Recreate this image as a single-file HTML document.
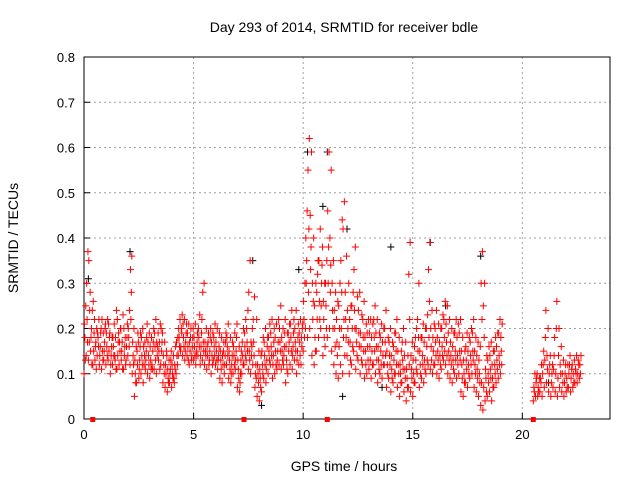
<!DOCTYPE html>
<html><head><meta charset="utf-8"><style>
body{margin:0;background:#fff}
svg{display:block;font-family:"Liberation Sans",sans-serif}
</style></head><body>
<svg id="chart" width="640" height="480" viewBox="0 0 640 480">
<text x="344" y="32" font-size="14" text-anchor="middle">Day 293 of 2014, SRMTID for receiver bdle</text>
<text x="344" y="471" font-size="14" text-anchor="middle">GPS time / hours</text>
<text transform="translate(18,238) rotate(-90)" font-size="14" text-anchor="middle">SRMTID / TECUs</text>
<g id="grid"></g>
<g id="axes"></g>
<g id="marks"></g>
</svg>
<script>
const xTicks=[0,5,10,15,20];
const yTicks=[0,0.1,0.2,0.3,0.4,0.5,0.6,0.7,0.8];
const yTickLabels=["0","0.1","0.2","0.3","0.4","0.5","0.6","0.7","0.8"];
const seg1Start=0, seg2Start=20.5, step=0.1;
const lowVals=[.10,.14,.13,.15,.12,.13,.14,.12,.11,.13,.12,.13,.10,.12,.14,.11,.12,.13,.11,.12,.14,.12,.10,.05,.08,.09,.10,.08,.11,.10,.09,.12,.11,.10,.13,.12,.08,.07,.06,.08,.07,.09,.10,.14,.15,.14,.13,.14,.12,.13,.13,.12,.14,.12,.13,.12,.11,.12,.10,.13,.12,.11,.09,.08,.10,.12,.09,.08,.10,.11,.07,.06,.10,.12,.13,.11,.10,.12,.07,.05,.04,.06,.09,.08,.10,.12,.09,.10,.11,.12,.11,.12,.08,.10,.12,.11,.13,.10,.12,.12,.15,.20,.18,.20,.14,.12,.15,.18,.20,.14,.16,.18,.20,.15,.12,.10,.09,.12,.10,.14,.14,.10,.12,.15,.11,.13,.10,.12,.09,.10,.11,.09,.12,.10,.08,.10,.09,.12,.07,.09,.06,.08,.10,.07,.05,.08,.06,.04,.07,.06,.05,.08,.10,.07,.09,.08,.10,.12,.11,.10,.12,.10,.09,.11,.13,.12,.10,.09,.08,.10,.09,.10,.06,.05,.08,.07,.09,.10,.07,.06,.05,.03,.02,.04,.05,.06,.04,.07,.08,.09,.10];
const midVals=[.18,.22,.17,.20,.15,.17,.18,.16,.15,.17,.16,.15,.14,.16,.18,.14,.15,.17,.14,.16,.18,.22,.14,.10,.12,.13,.14,.12,.15,.14,.13,.15,.16,.14,.17,.15,.12,.10,.09,.11,.10,.12,.14,.18,.20,.18,.17,.16,.15,.16,.16,.15,.18,.16,.17,.15,.14,.15,.14,.16,.15,.14,.13,.12,.14,.16,.13,.12,.14,.15,.11,.10,.14,.16,.17,.15,.14,.17,.12,.10,.09,.12,.14,.13,.15,.16,.14,.15,.15,.17,.15,.16,.13,.15,.18,.16,.17,.15,.17,.16,.22,.30,.28,.33,.22,.18,.22,.26,.30,.22,.25,.30,.28,.24,.20,.17,.16,.20,.18,.22,.20,.17,.20,.24,.17,.19,.16,.18,.15,.16,.16,.15,.18,.16,.13,.15,.14,.17,.12,.14,.11,.13,.15,.12,.10,.13,.11,.09,.12,.11,.10,.13,.15,.12,.14,.13,.16,.18,.16,.15,.17,.15,.14,.16,.18,.17,.15,.14,.13,.15,.14,.15,.12,.10,.13,.12,.14,.15,.12,.11,.10,.08,.07,.09,.10,.11,.09,.12,.13,.14,.15];
const highVals=[.25,.37,.28,.24,.22,.20,.22,.20,.19,.21,.22,.19,.18,.21,.24,.19,.20,.23,.18,.21,.24,.36,.20,.16,.17,.19,.20,.17,.21,.19,.18,.20,.22,.19,.21,.19,.17,.14,.13,.15,.14,.16,.18,.22,.23,.22,.21,.21,.20,.20,.21,.19,.23,.22,.30,.20,.19,.20,.19,.21,.20,.19,.18,.17,.19,.21,.18,.17,.19,.21,.16,.15,.20,.22,.24,.35,.20,.27,.22,.15,.14,.18,.20,.18,.21,.22,.20,.21,.22,.25,.20,.22,.19,.21,.24,.22,.24,.21,.22,.21,.30,.46,.62,.59,.40,.30,.35,.42,.38,.30,.35,.59,.55,.35,.28,.26,.30,.44,.48,.36,.30,.25,.28,.38,.27,.28,.23,.26,.21,.22,.22,.21,.25,.22,.19,.21,.20,.24,.18,.20,.17,.19,.22,.18,.15,.20,.17,.14,.39,.17,.16,.20,.30,.18,.21,.20,.23,.39,.24,.21,.24,.21,.20,.23,.26,.25,.22,.20,.19,.22,.21,.22,.18,.15,.19,.18,.20,.22,.18,.17,.16,.37,.30,.14,.16,.17,.15,.18,.19,.22,.21];
const extraVals1=[.21,.30,.35,.18,.26,.16,.19,.14,.22,.15,.19,.21,.12,.18,.13,.22,.17,.15,.20,.13,.20,.33,.17,.13,.15,.11,.18,.16,.13,.17,.16,.11,.19,.17,.15,.20,.14,.12,.11,.10,.12,.08,.17,.20,.16,.21,.15,.19,.17,.14,.18,.14,.20,.14,.28,.17,.16,.13,.17,.18,.17,.13,.15,.14,.12,.18,.15,.10,.16,.13,.13,.08,.17,.19,.20,.28,.17,.22,.10,.12,.11,.15,.17,.11,.18,.19,.12,.18,.13,.20,.18,.14,.16,.19,.21,.14,.20,.13,.19,.18,.26,.40,.55,.45,.30,.25,.28,.35,.25,.26,.30,.46,.40,.30,.24,.22,.25,.35,.42,.28,.24,.22,.25,.33,.20,.24,.19,.22,.18,.19,.19,.18,.22,.19,.16,.18,.17,.20,.15,.17,.14,.16,.19,.15,.12,.17,.14,.11,.32,.14,.13,.18,.22,.15,.18,.17,.20,.33,.20,.18,.20,.18,.17,.20,.22,.21,.19,.17,.16,.19,.18,.19,.15,.13,.16,.15,.17,.19,.15,.14,.13,.30,.25,.11,.13,.14,.12,.15,.16,.19,.18];
const extraVals2=[.13,.17,.24,.12,.19,.11,.16,.19,.13,.20,.14,.18,.16,.14,.11,.17,.20,.11,.16,.18,.16,.28,.12,.08,.19,.16,.12,.14,.18,.12,.11,.17,.13,.16,.11,.17,.10,.15,.08,.13,.09,.11,.12,.16,.19,.16,.19,.13,.18,.18,.14,.17,.16,.19,.15,.14,.17,.18,.12,.14,.13,.16,.11,.15,.17,.14,.11,.14,.12,.18,.09,.13,.12,.14,.15,.13,.16,.14,.09,.08,.07,.10,.12,.16,.13,.14,.17,.12,.17,.15,.13,.19,.11,.17,.15,.19,.15,.18,.14,.20,.18,.35,.42,.38,.26,.15,.32,.22,.34,.18,.20,.38,.34,.20,.16,.14,.20,.28,.22,.18,.17,.13,.16,.20,.14,.16,.13,.15,.12,.13,.13,.12,.15,.13,.11,.12,.12,.14,.10,.12,.09,.10,.12,.10,.08,.11,.09,.07,.22,.09,.08,.11,.18,.10,.12,.11,.13,.26,.13,.12,.14,.13,.12,.14,.15,.14,.13,.12,.11,.13,.12,.13,.09,.08,.11,.10,.12,.13,.10,.09,.08,.22,.18,.06,.08,.09,.07,.10,.11,.12,.12];
const lowVals2=[.04,.05,.05,.06,.05,.07,.08,.06,.05,.07,.06,.05,.07,.06,.05,.06,.07,.06,.07,.08,.08,.09];
const midVals2=[.07,.08,.07,.09,.10,.13,.14,.10,.08,.11,.10,.09,.12,.10,.08,.09,.10,.09,.10,.11,.10,.12];
const highVals2=[.10,.10,.09,.12,.15,.24,.20,.14,.12,.18,.26,.20,.16,.13,.12,.12,.14,.12,.13,.14,.12,.14];
const extraVals3=[.06,.09,.06,.08,.12,.18,.11,.12,.10,.14,.20,.14,.10,.08,.10,.07,.12,.11,.08,.10,.13,.10];
const blackTimes=[0.2,2.1,7.7,10.2,11.1,10.9,12.0,14.0,15.8,18.1,8.1,11.8,13.6,21.2,9.8,16.5];
const blackVals=[0.31,0.37,0.35,0.59,0.59,0.47,0.42,0.38,0.39,0.36,0.03,0.05,0.07,0.08,0.33,0.25];
const markerTimes=[0.4,7.3,11.1,20.5];

const X0=84,X1=610,Y0=419,Y1=57,XMAX=24,YMAX=0.8;
const xs=v=>X0+v/XMAX*(X1-X0);
const ys=v=>Y0-v/YMAX*(Y0-Y1);
const NS="http://www.w3.org/2000/svg";
const grid=document.getElementById('grid'),axes=document.getElementById('axes'),marks=document.getElementById('marks');
function mk(tag,attrs,parent){const e=document.createElementNS(NS,tag);for(const k in attrs)e.setAttribute(k,attrs[k]);parent.appendChild(e);return e;}

xTicks.forEach(t=>{const x=xs(t);
 if(t>0){const g=mk('line',{x1:x,x2:x,y1:Y0,y2:Y1,stroke:'#a0a0a0','stroke-dasharray':'2,3'},grid);
 
 }
 const tk=mk('line',{x1:x,x2:x,y1:Y0,y2:Y0-6,stroke:'#000'},axes);
 
 
 const tx=mk('text',{x:x,y:Y0+20,'font-size':13,'text-anchor':'middle'},axes);tx.textContent=t;
 
 
});
yTicks.forEach((t,i)=>{const y=ys(t);
 if(t>0&&t<YMAX){const g=mk('line',{x1:X0,x2:X1,y1:y,y2:y,stroke:'#a0a0a0','stroke-dasharray':'2,3'},grid);
 
 }
 const tk=mk('line',{x1:X0,x2:X0+6,y1:y,y2:y,stroke:'#000'},axes);
 
 
 const tx=mk('text',{x:X0-9,y:y+5,'font-size':13,'text-anchor':'end'},axes);tx.textContent=yTickLabels[i];
 
 
});
const frame=mk('rect',{x:X0,y:Y1,width:X1-X0,height:Y0-Y1,fill:'none',stroke:'#000'},axes);



function plus(t,v,color,name){const x=xs(t),y=ys(v);
 const p=mk('path',{d:`M${x-3.5},${y}h7M${x},${y-3.5}v7`,stroke:color,'stroke-width':1,fill:'none'},marks);
 
 }
blackTimes.forEach((t,i)=>plus(t,blackVals[i],'#000','black-point'));
function drawSeg(start,arrs){const n=arrs.length;arrs.forEach((arr,k)=>arr.forEach((v,i)=>plus(start+i*step+k*step/n,v,'#f00','red-point')));}
drawSeg(seg1Start,[lowVals,extraVals1,midVals,extraVals2,highVals]);
drawSeg(seg2Start,[lowVals2,midVals2,extraVals3,highVals2]);
markerTimes.forEach(t=>{const r=mk('rect',{x:xs(t)-2.5,y:Y0-2,width:5,height:5,fill:'#f00'},marks);
 
 });
</script>
</body></html>
